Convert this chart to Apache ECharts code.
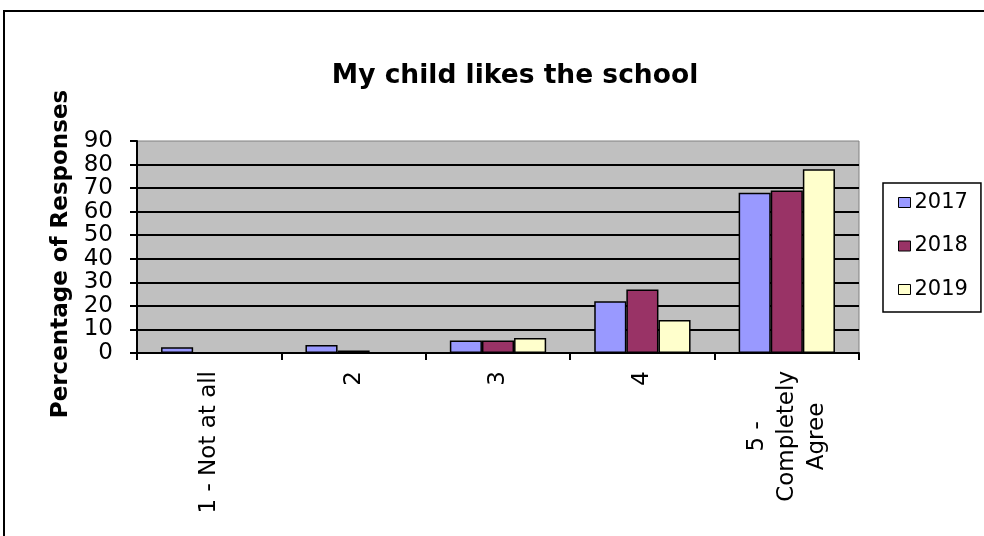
<!DOCTYPE html>
<html>
<head>
<meta charset="utf-8">
<title>My child likes the school</title>
<script src="https://cdn.jsdelivr.net/npm/echarts@6/dist/echarts.min.js"></script>
<style>
  html, body { margin: 0; padding: 0; background: #fff; }
  #chart { width: 984px; height: 536px; }
</style>
</head>
<body>
<div id="chart"></div>
<script>
const categories = ['1 - Not at all', '2', '3', '4', '5 -\nCompletely\nAgree']
const years = ['2017', '2018', '2019']
const values2017 = [2.4, 3.4, 5.3, 22, 68]
const values2018 = [0, 1.1, 5.3, 27, 69]
const values2019 = [0, 0, 6.4, 14, 78]
const yTicks = { min: 0, max: 90, interval: 10 }

const colors = ['#9999ff', '#993366', '#ffffcc']
const FONT = 'DejaVu Sans'

const chart = echarts.init(document.getElementById('chart'))

const makeSeries = (name, data, i) => ({
  name,
  type: 'bar',
  data,
  barGap: '0%',
  barCategoryGap: '33.3%',
  itemStyle: { color: colors[i], borderColor: '#000', borderWidth: 1.5 }
})

chart.setOption({
  animation: false,
  backgroundColor: '#fff',
  title: {
    text: 'My child likes the school',
    left: 510,
    top: 58,
    textAlign: 'center',
    textStyle: { fontFamily: FONT, fontWeight: 'bold', fontSize: 26.5, color: '#000' }
  },
  legend: {
    data: years,
    orient: 'vertical',
    left: 883,
    top: 183,
    padding: [9, 13, 12, 15],
    itemGap: 22.5,
    itemWidth: 12,
    itemHeight: 10,
    borderColor: '#000',
    borderWidth: 1.5,
    icon: 'rect',
    itemStyle: { borderColor: '#000', borderWidth: 1 },
    textStyle: { fontFamily: FONT, fontSize: 21, color: '#000', padding: [0, 0, 0, -1] }
  },
  grid: {
    left: 137,
    right: 125,
    top: 141,
    bottom: 183,
    show: true,
    backgroundColor: '#c0c0c0',
    borderColor: '#808080',
    borderWidth: 1
  },
  xAxis: {
    type: 'category',
    data: categories,
    axisLine: { lineStyle: { color: '#000', width: 2 } },
    axisTick: { show: true, length: 7, lineStyle: { color: '#000', width: 2 } },
    axisLabel: {
      interval: 0,
      rotate: 90,
      margin: 18,
      color: '#000',
      fontFamily: FONT,
      fontSize: 23,
      lineHeight: 30,
      // centre each line of the multi-line label
      formatter: v => v.split('\n').map(s => '{c|' + s + '}').join('\n'),
      rich: { c: { align: 'center', fontFamily: FONT, fontSize: 23, lineHeight: 30, color: '#000' } }
    }
  },
  yAxis: {
    type: 'value',
    min: yTicks.min,
    max: yTicks.max,
    interval: yTicks.interval,
    name: 'Percentage of Responses',
    nameLocation: 'middle',
    nameGap: 60,
    nameTextStyle: { fontFamily: FONT, fontWeight: 'bold', fontSize: 23, color: '#000', padding: [0, 14, 0, 0] },
    axisLine: { show: true, lineStyle: { color: '#000', width: 2 } },
    axisTick: { show: true, length: 7, lineStyle: { color: '#000', width: 2 } },
    axisLabel: { margin: 24, color: '#000', fontFamily: FONT, fontSize: 23 },
    splitLine: { show: true, showMaxLine: false, lineStyle: { color: '#000', width: 2 } }
  },
  series: [
    makeSeries(years[0], values2017, 0),
    makeSeries(years[1], values2018, 1),
    makeSeries(years[2], values2019, 2)
  ],
  graphic: [{
    type: 'rect',
    shape: { x: 4, y: 11, width: 1000, height: 600 },
    style: { fill: 'none', stroke: '#000', lineWidth: 2 },
    silent: true
  }]
})
</script>
</body>
</html>
